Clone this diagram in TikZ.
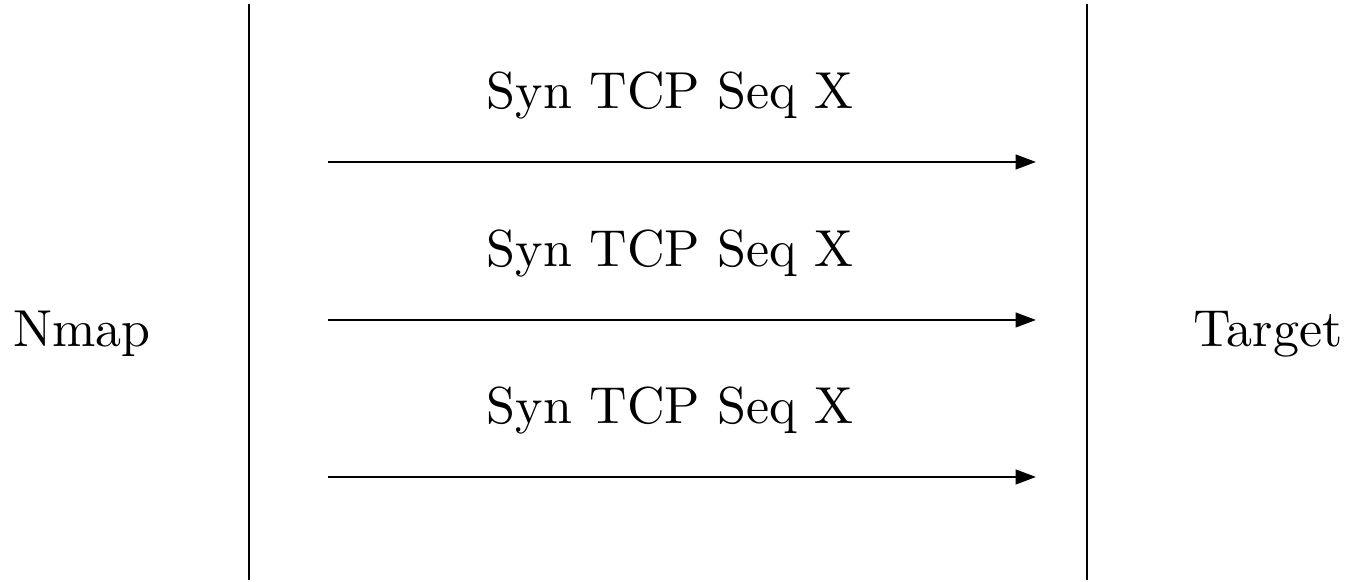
\documentclass[tikz,border=0pt]{standalone}
\usetikzlibrary{arrows.meta}
\begin{document}
\begin{tikzpicture}[x=0.1923pt,y=-0.1923pt,
  lifeline/.style={line width=0.5pt},
  msg/.style={line width=0.45pt,-{Triangle[length=3.9pt,width=2.8pt]}},
  lbl/.style={anchor=base,inner sep=0pt}]
\useasboundingbox (0,0) rectangle (1346,582);
% endpoints
\node[lbl] (nmap) at (82,347) {Nmap};
\node[lbl] (target) at (1268,347) {Target};
\coordinate (lt) at (249,4);
\coordinate (lb) at (249,580);
\coordinate (rt) at (1087,4);
\coordinate (rb) at (1087,580);
\draw[lifeline] (lt) -- (lb);
\draw[lifeline] (rt) -- (rb);
% messages
\foreach \i/\y in {1/162,2/320,3/477}{
  \node[lbl] (m\i) at (670,\y-53) {Syn TCP Seq X};
  \coordinate (s\i) at (328,\y);
  \coordinate (e\i) at (1036,\y);
  \draw[msg] (s\i) -- (e\i);
}
\end{tikzpicture}
\end{document}
